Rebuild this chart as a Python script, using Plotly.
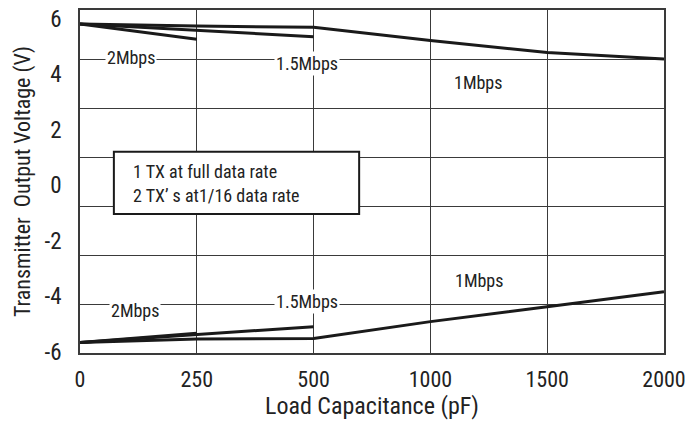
import plotly.graph_objects as go

# Data
categories = ["0", "250", "500", "1000", "1500", "2000"]
pos_1mbps = [5.82, 5.74, 5.70, 5.22, 4.79, 4.55]
pos_15mbps_x = ["0", "250", "500"]
pos_15mbps = [5.82, 5.60, 5.36]
pos_2mbps_x = ["0", "250"]
pos_2mbps = [5.82, 5.27]
neg_1mbps = [-5.66, -5.54, -5.52, -4.91, -4.37, -3.83]
neg_15mbps_x = ["0", "250", "500"]
neg_15mbps = [-5.66, -5.38, -5.09]
neg_2mbps_x = ["0", "250"]
neg_2mbps = [-5.66, -5.33]
y_ticks = [6, 4, 2, 0, -2, -4, -6]

FONT = "Liberation Sans Narrow, Roboto Condensed, Arial Narrow, Liberation Sans, sans-serif"
LC = "#1a1a1a"
GC = "#3a3a3a"

fig = go.Figure()
line = dict(color=LC, width=3)
for xs, ys in [(categories, pos_1mbps), (pos_15mbps_x, pos_15mbps), (pos_2mbps_x, pos_2mbps),
               (categories, neg_1mbps), (neg_15mbps_x, neg_15mbps), (neg_2mbps_x, neg_2mbps)]:
    fig.add_trace(go.Scatter(x=xs, y=ys, mode="lines", line=line, showlegend=False, hoverinfo="skip"))

# invisible trace to register the grid axis
fig.add_trace(go.Scatter(x=["0"], y=[0], yaxis="y2", mode="markers",
                         marker=dict(opacity=0), showlegend=False, hoverinfo="skip"))

fig.update_layout(
    width=686, height=430,
    margin=dict(l=80, r=22, t=10, b=77, autoexpand=False),
    paper_bgcolor="white", plot_bgcolor="white",
    font=dict(family=FONT, color="#222"),
    xaxis=dict(type="category", categoryorder="array", categoryarray=categories,
               range=[0, 5], showgrid=True, gridcolor=GC, gridwidth=1, automargin=False,
               showline=True, linecolor=GC, linewidth=1.5, mirror=True,
               ticks="", tickfont=dict(size=22, family=FONT), ticklabelstandoff=6,
               title=dict(text="Load Capacitance (pF)", font=dict(size=24, family=FONT), standoff=0),
               zeroline=False),
    yaxis=dict(range=[-6.04, 6.32], tickvals=y_ticks, ticktext=[str(v) for v in y_ticks],
               showgrid=False, zeroline=False, automargin=False,
               showline=True, linecolor=GC, linewidth=1.5, mirror=True,
               ticks="", tickfont=dict(size=23, family=FONT), ticklabelstandoff=12,
               title=dict(text="Transmitter  Output Voltage (V)", font=dict(size=22, family=FONT), standoff=8)),
    yaxis2=dict(overlaying="y", range=[0, 7], dtick=1, showgrid=True, gridcolor=GC, gridwidth=1,
                showticklabels=False, zeroline=False, showline=False, ticks="", automargin=False),
)

ann_font = dict(size=18, family=FONT, color="#222")
labels = [
    (0.44, 4.62, "2Mbps", True), (1.94, 4.38, "1.5Mbps", True), (3.41, 3.69, "1Mbps", False),
    (0.47, -4.52, "2Mbps", True), (1.94, -4.20, "1.5Mbps", True), (3.42, -3.41, "1Mbps", False),
]
for x, y, t, bg in labels:
    fig.add_annotation(x=x, y=y, xref="x", yref="y", text=t, showarrow=False, font=ann_font,
                       bgcolor="white" if bg else "rgba(0,0,0,0)", borderpad=1)

fig.add_shape(type="rect", xref="paper", yref="paper", x0=0.058, x1=0.478, y0=0.405, y1=0.587,
              line=dict(color=LC, width=2), fillcolor="white", layer="above")
fig.add_annotation(xref="paper", yref="paper", x=0.088, y=0.528, text="1 TX at full data rate",
                   showarrow=False, xanchor="left", font=ann_font)
fig.add_annotation(xref="paper", yref="paper", x=0.088, y=0.458, text="2 TX\u2019 s at1/16 data rate",
                   showarrow=False, xanchor="left", font=ann_font)

fig.write_html("out.html", config={"displayModeBar": False},
               post_script="document.body.style.margin='0';document.body.style.padding='0';")
